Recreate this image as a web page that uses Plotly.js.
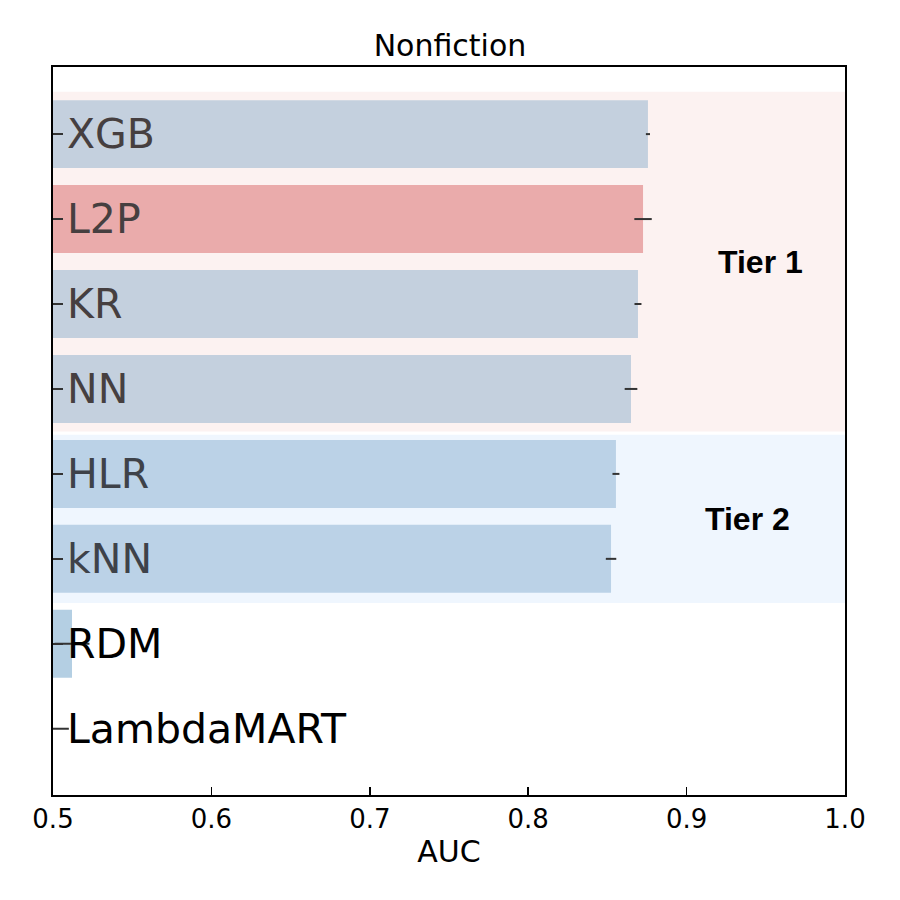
<!DOCTYPE html>
<html>
<head>
<meta charset="utf-8">
<script src="https://cdn.plot.ly/plotly-3.0.1.min.js"></script>
<style>
  html, body { margin: 0; padding: 0; background: #fff; }
</style>
</head>
<body>
<div id="myDiv" style="width:900px;height:900px;"></div>
<script>
// models, top to bottom
var models = ['XGB', 'L2P', 'KR', 'NN', 'HLR', 'kNN', 'RDM', 'LambdaMART'];
var auc = [0.8756, 0.8725, 0.8693, 0.8649, 0.8554, 0.8523, 0.512, 0.5];
var aucErr = [0.0013, 0.0055, 0.0022, 0.0040, 0.0022, 0.0033, 0.011, 0.010];
var barColors = ['#c4d0de', '#eaabab', '#c4d0de', '#c4d0de', '#bbd2e7', '#bbd2e7', '#b4cfe3', '#b4cfe3'];
var labelColors = ['#463f40', '#463f40', '#463f40', '#463f40', '#3e4249', '#3e4249', '#000000', '#000000'];

var xTicks = [0.5, 0.6, 0.7, 0.8, 0.9, 1.0];

// tier bands (in category index units)
var tierNames = ['Tier 1', 'Tier 2'];
var tierStart = [-0.5, 3.54];
var tierEnd = [3.5, 5.52];
var tierColors = ['#fcf2f1', '#eff6fe'];
var tierLabelX = [0.9465, 0.9385];
var tierLabelY = [1.5, 4.53];

var idx = models.map(function(m, i) { return i; });

var trace = {
  type: 'bar',
  orientation: 'h',
  x: auc,
  y: idx,
  width: 0.8,
  marker: { color: barColors, line: { width: 0 } },
  error_x: {
    type: 'data',
    array: aucErr,
    visible: true,
    color: '#333333',
    thickness: 2,
    width: 0
  },
  hoverinfo: 'none'
};

var shapes = [];
var annotations = [];
for (var i = 0; i < tierNames.length; i++) {
  shapes.push({
    type: 'rect', xref: 'x', yref: 'y', layer: 'below',
    x0: 0.5, x1: 1.0, y0: tierStart[i], y1: tierEnd[i],
    fillcolor: tierColors[i], line: { width: 0 }
  });
  annotations.push({
    xref: 'x', yref: 'y', x: tierLabelX[i], y: tierLabelY[i],
    text: '<b>' + tierNames[i] + '</b>', showarrow: false,
    font: { family: 'Liberation Sans, Arial, sans-serif', size: 32, color: '#000' }
  });
}

// model names drawn inside the axes, next to the ticks
models.forEach(function(m, i) {
  annotations.push({
    xref: 'paper', yref: 'y', x: 0, y: i,
    xanchor: 'left', yanchor: 'middle', xshift: 12,
    text: m, showarrow: false,
    font: { family: 'DejaVu Sans, sans-serif', size: 41, color: labelColors[i] }
  });
});

var layout = {
  width: 900,
  height: 900,
  margin: { l: 53, r: 55, t: 67, b: 105 },
  paper_bgcolor: '#ffffff',
  plot_bgcolor: '#ffffff',
  showlegend: false,
  font: { family: 'DejaVu Sans, sans-serif', color: '#000' },
  title: {
    text: 'Nonfiction',
    x: 0.5, xanchor: 'center',
    y: 0.95, yanchor: 'middle',
    font: { size: 30, color: '#000' }
  },
  xaxis: {
    range: [0.5, 1.0],
    tickvals: xTicks,
    ticktext: xTicks.map(function(v) { return v.toFixed(1); }),
    ticks: 'inside',
    ticklen: 8,
    tickwidth: 1.5,
    tickcolor: '#000',
    tickfont: { size: 26 },
    showgrid: false,
    zeroline: false,
    showline: true,
    linecolor: '#000',
    linewidth: 1.8,
    mirror: true,
    title: { text: 'AUC', font: { size: 30 }, standoff: 8 }
  },
  yaxis: {
    range: [7.78, -0.79],
    tickvals: idx,
    ticks: 'inside',
    ticklen: 10,
    tickwidth: 1.5,
    tickcolor: '#333',
    showticklabels: false,
    showgrid: false,
    zeroline: false,
    showline: true,
    linecolor: '#000',
    linewidth: 1.8,
    mirror: true
  },
  shapes: shapes,
  annotations: annotations
};

Plotly.newPlot('myDiv', [trace], layout, { displayModeBar: false, staticPlot: true });
</script>
</body>
</html>
